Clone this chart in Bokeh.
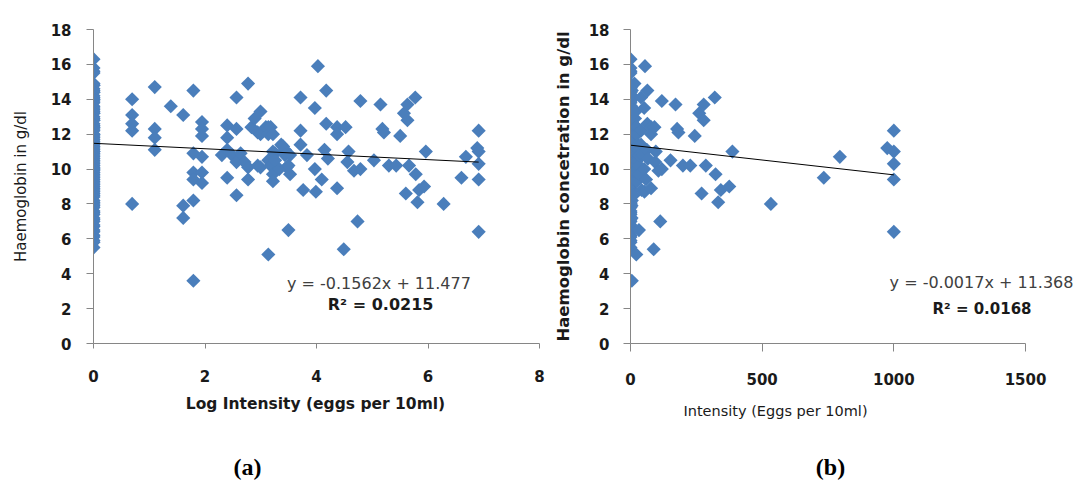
import numpy as np
from bokeh.plotting import figure
from bokeh.layouts import row, column
from bokeh.models import Range1d, FixedTicker, Label
from bokeh.embed import file_html
from bokeh.resources import INLINE

# Haemoglobin (g/dl) of children with no eggs found
hb_zero = [16.3, 15.8, 15.6, 15.5, 14.9, 14.8, 14.8, 14.6, 14.5, 14.4, 14.4, 14.2,
           14.1, 14.0, 14.0, 13.9, 13.8, 13.6, 13.5, 13.4, 13.3, 13.2, 13.2, 13.0,
           12.9, 12.8, 12.8, 12.6, 12.5, 12.4, 12.4, 12.3, 12.2, 12.0, 12.0, 11.9,
           11.8, 11.7, 11.6, 11.5, 11.4, 11.3, 11.2, 11.1, 11.0, 11.0, 10.9, 10.8,
           10.7, 10.6, 10.5, 10.4, 10.3, 10.2, 10.1, 10.0, 10.0, 9.9, 9.8, 9.7,
           9.6, 9.5, 9.4, 9.3, 9.2, 9.1, 9.0, 8.9, 8.8, 8.7, 8.6, 8.5, 8.4, 8.2,
           8.1, 8.0, 7.9, 7.8, 7.6, 7.5, 7.4, 7.2, 7.1, 7.0, 6.8, 6.7, 6.5, 6.4,
           6.2, 6.1, 5.9, 5.8, 5.5]

# Egg-positive children: intensity (eggs per 10 ml) and haemoglobin (g/dl)
eggs_pos = [1, 1, 1, 1, 1, 2, 2, 2, 2, 3, 4, 4, 4, 5, 5, 5, 5, 5, 5,
            6, 6, 6, 6, 6, 6, 9, 10, 10, 10, 10, 11, 12, 12, 12, 12, 13, 14,
            15, 15, 15, 16, 17, 18, 18, 19, 19, 19, 21, 22, 22, 22, 22, 23, 23,
            24, 24, 24, 24, 25, 25, 27, 28, 29, 30, 30, 31, 32, 32, 33, 33,
            40, 40, 40, 42, 45, 52, 52, 53, 55, 59, 62, 64, 64, 66, 78, 78, 78,
            88, 91, 94, 96, 106, 113, 119, 119, 152, 171, 177, 182, 199, 227,
            244, 261, 270, 278, 278, 286, 320, 323, 333, 343, 375, 387, 533,
            734, 795, 975, 1000, 1000, 1000, 1000, 1000]
hb_pos = [14.0, 13.1, 12.6, 12.2, 8.0, 14.7, 12.3, 11.8, 11.1, 13.6, 13.1, 7.9, 7.2,
          14.5, 10.9, 9.8, 9.4, 8.2, 3.6,
          12.7, 12.3, 11.9, 10.7, 9.8, 9.2, 10.8, 12.5, 11.8, 11.1, 9.5, 10.8,
          14.1, 12.3, 10.4, 8.5, 10.9, 10.4,
          14.9, 10.1, 9.4, 12.4, 12.9, 12.1, 10.2, 13.3, 12.0, 10.1, 12.4,
          12.4, 12.0, 10.5, 5.1, 12.4, 10.2,
          12.0, 11.0, 9.7, 9.3, 10.9, 10.5, 10.0, 11.4, 11.3, 11.1, 10.8, 10.1,
          10.2, 6.5, 10.8, 9.7,
          14.1, 12.2, 11.4, 8.8, 10.8, 13.5, 10.0, 8.7, 15.9, 9.4, 11.1, 14.5,
          12.6, 10.6, 12.4, 12.0, 8.9,
          5.4, 12.4, 10.4, 11.0, 9.9, 7.0, 13.9, 10.0, 10.5, 13.7, 12.3, 12.1,
          10.2, 10.2,
          11.9, 13.2, 8.6, 13.7, 12.8, 10.2, 14.1, 9.7, 8.1, 8.8, 9.0, 11.0, 8.0,
          9.5, 10.7, 11.2, 12.2, 11.0, 10.3, 9.4, 6.4]

fit_a = (-0.1562, 11.477)   # slope, intercept on log intensity
fit_b = (-0.0017, 11.368)   # slope, intercept on intensity
eq_a = ["y = -0.1562x + 11.477", "R\u00b2 = 0.0215"]
eq_b = ["y = -0.0017x + 11.368", "R\u00b2 = 0.0168"]
x_title_a = "Log Intensity (eggs per 10ml)"
x_title_b = "Intensity (Eggs per 10ml)"
y_title_a = "Haemoglobin in g/dl"
y_title_b = "Haemoglobin concetration in g/dl"
x_ticks_a = [0, 2, 4, 6, 8]
x_ticks_b = [0, 500, 1000, 1500]
y_ticks = [0, 2, 4, 6, 8, 10, 12, 14, 16, 18]
panel_tags = ["(a)", "(b)"]

eggs = np.array([0] * len(hb_zero) + eggs_pos, dtype=float)
hb = np.array(hb_zero + hb_pos, dtype=float)
log_eggs = np.log1p(eggs)

BLUE = "#4A7EBB"
AXIS = "#868686"
FONT = "DejaVu Sans"
W = 1082
H = 486
H_TOP = 394


def style(p, xt, tick_out_x, x_stand, tick_out_y, y_stand, yl_stand):
    p.xaxis.ticker = FixedTicker(ticks=xt, minor_ticks=[])
    p.yaxis.ticker = FixedTicker(ticks=y_ticks, minor_ticks=[])
    p.grid.visible = False
    p.outline_line_color = None
    p.axis.axis_line_color = AXIS
    p.axis.major_tick_line_color = AXIS
    p.axis.minor_tick_line_color = None
    p.axis.major_tick_in = 0
    p.xaxis.major_tick_out = tick_out_x
    p.yaxis.major_tick_out = tick_out_y
    p.axis.major_label_text_font = FONT
    p.axis.major_label_text_font_style = "bold"
    p.axis.major_label_text_font_size = "15px"
    p.axis.major_label_text_color = "#1a1a1a"
    p.xaxis.major_label_standoff = x_stand
    p.yaxis.major_label_standoff = y_stand
    p.yaxis.axis_label_standoff = yl_stand
    p.axis.axis_label_text_font = FONT
    p.axis.axis_label_text_color = "#1a1a1a"


# ---------- panel (a) ----------
pa = figure(width=548, height=H_TOP, output_backend="svg", toolbar_location=None,
            x_range=Range1d(0, 8), y_range=Range1d(0, 18),
            min_border_left=93, min_border_right=9, min_border_top=29,
            min_border_bottom=H_TOP - 350,
            y_axis_label=y_title_a)
style(pa, x_ticks_a, 5, 21, 7, 15, 18)
pa.yaxis.axis_label_text_font_style = "normal"
pa.yaxis.axis_label_text_font_size = "15px"

pa.scatter(log_eggs, hb, marker="square", angle=np.pi / 4, size=10,
           fill_color=BLUE, line_color=None)
xa = np.array([0, log_eggs.max()])
pa.line(xa, fit_a[0] * xa + fit_a[1], line_color="black", line_width=1)
pa.add_layout(Label(x=5.12, y=3.42, text=eq_a[0], text_font=FONT,
                    text_font_size="16px", text_color="#404040",
                    text_align="center", text_baseline="middle"))
pa.add_layout(Label(x=5.15, y=2.22, text=eq_a[1], text_font=FONT,
                    text_font_size="16px", text_font_style="bold",
                    text_color="#1a1a1a", text_align="center",
                    text_baseline="middle"))

# ---------- panel (b) ----------
# frame runs past x=1500 so the equation is not clipped; axis line stops at 1500
frame_w_b = 1078 - 630
pb = figure(width=W - 548, height=H_TOP, output_backend="svg", toolbar_location=None,
            x_range=Range1d(0, 1500 * frame_w_b / 395), y_range=Range1d(0, 18),
            min_border_left=82, min_border_right=4, min_border_top=18,
            min_border_bottom=H_TOP - 343,
            y_axis_label=y_title_b)
style(pb, x_ticks_b, 8, 21, 7, 14, 13)
pb.xaxis.bounds = (0, 1500)
pb.yaxis.axis_label_text_font_style = "bold"
pb.yaxis.axis_label_text_font_size = "16.5px"

pb.scatter(eggs, hb, marker="square", angle=np.pi / 4, size=10,
           fill_color=BLUE, line_color=None)
xb = np.array([0, eggs.max()])
pb.line(xb, fit_b[0] * xb + fit_b[1], line_color="black", line_width=1)
pb.add_layout(Label(x=1333, y=3.49, text=eq_b[0], text_font=FONT,
                    text_font_size="16px", text_color="#404040",
                    text_align="center", text_baseline="middle"))
pb.add_layout(Label(x=1335, y=1.99, text=eq_b[1], text_font=FONT,
                    text_font_size="15px", text_font_style="bold",
                    text_color="#1a1a1a", text_align="center",
                    text_baseline="middle"))

# ---------- strip below: x-axis titles and panel tags (pixel coordinates) ----------
strip = figure(width=W, height=H - H_TOP, output_backend="svg", toolbar_location=None,
               x_range=Range1d(0, W), y_range=Range1d(H, H_TOP),
               x_axis_type=None, y_axis_type=None, min_border=0)
strip.grid.visible = False
strip.outline_line_color = None
strip.add_layout(Label(x=315, y=403, text=x_title_a, text_font=FONT,
                       text_font_size="15.5px", text_font_style="bold",
                       text_color="#1a1a1a", text_align="center",
                       text_baseline="middle"))
strip.add_layout(Label(x=775, y=410, text=x_title_b, text_font=FONT,
                       text_font_size="14.5px", text_color="#1a1a1a",
                       text_align="center", text_baseline="middle"))
for tag, tx in zip(panel_tags, [247, 830]):
    strip.add_layout(Label(x=tx, y=466, text=tag, text_font="Liberation Serif",
                           text_font_size="24px", text_font_style="bold",
                           text_color="black", text_align="center",
                           text_baseline="middle"))

layout = column(row(pa, pb), strip)
open("out.html", "w").write(file_html(layout, INLINE))
